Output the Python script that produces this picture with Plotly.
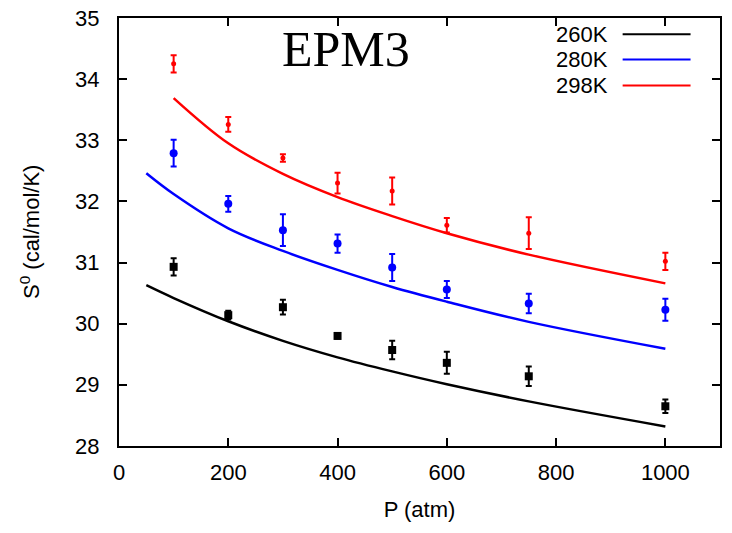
import plotly.graph_objects as go

# Measured entropies (cal/mol/K) with uncertainties, by pressure (atm)
pressure_pts = [100, 200, 300, 400, 500, 600, 750, 1000]
s_260 = [30.93, 30.14, 30.27, 29.80, 29.57, 29.36, 29.14, 28.65]
err_260 = [0.14, 0.07, 0.12, 0.04, 0.15, 0.18, 0.16, 0.11]
s_280 = [32.79, 31.96, 31.53, 31.31, 30.92, 30.56, 30.33, 30.23]
err_280 = [0.22, 0.13, 0.26, 0.15, 0.22, 0.14, 0.16, 0.18]
s_298 = [34.25, 33.26, 32.71, 32.30, 32.17, 31.61, 31.48, 31.02]
err_298 = [0.14, 0.12, 0.06, 0.17, 0.22, 0.12, 0.26, 0.14]

# Model curves (EPM3)
p_curve_lo = [50, 100, 200, 300, 400, 500, 600, 750, 1000]
curve_260 = [30.63, 30.42, 30.04, 29.72, 29.45, 29.22, 29.01, 28.73, 28.32]
curve_280 = [32.46, 32.12, 31.56, 31.19, 30.88, 30.60, 30.36, 30.03, 29.59]
p_curve_hi = [100, 200, 300, 400, 500, 600, 750, 1000]
curve_298 = [33.69, 32.95, 32.45, 32.07, 31.76, 31.48, 31.13, 30.66]

# Axis ticks
x_ticks = [0, 200, 400, 600, 800, 1000]
y_ticks = [28, 29, 30, 31, 32, 33, 34, 35]

labels = ["260K", "280K", "298K"]
colors = ["#000000", "#0000ff", "#ff0000"]

fig = go.Figure()

curves = [(p_curve_lo, curve_260), (p_curve_lo, curve_280), (p_curve_hi, curve_298)]
for (px, py), col in zip(curves, colors):
    fig.add_trace(go.Scatter(x=px, y=py, mode="lines",
                             line=dict(color=col, width=2.5, shape="spline", smoothing=1.0),
                             showlegend=False, hoverinfo="skip"))

points = [(s_260, err_260, "square", 8), (s_280, err_280, "circle", 8), (s_298, err_298, "circle", 5)]
for (sy, ey, sym, size), col in zip(points, colors):
    fig.add_trace(go.Scatter(x=pressure_pts, y=sy, mode="markers",
                             marker=dict(color=col, symbol=sym, size=size),
                             error_y=dict(type="data", array=ey, color=col, thickness=2, width=3),
                             showlegend=False))

# Key: label on the left, line sample on the right
legend_y = [0.962, 0.903, 0.842]
for lab, col, ly in zip(labels, colors, legend_y):
    fig.add_annotation(x=0.8165, y=ly, xref="paper", yref="paper", text=lab,
                       showarrow=False, xanchor="right", yanchor="middle",
                       font=dict(size=22, color="black"))
    fig.add_shape(type="line", xref="paper", yref="paper",
                  x0=0.838, x1=0.951, y0=ly, y1=ly,
                  line=dict(color=col, width=2))

fig.add_annotation(x=0.378, y=0.928, xref="paper", yref="paper", text="EPM3",
                   showarrow=False, xanchor="center", yanchor="middle",
                   font=dict(family="Liberation Serif, Times New Roman, serif", size=50, color="black"))

axis_common = dict(showline=True, linecolor="black", linewidth=2, mirror="allticks",
                   ticks="inside", ticklen=8, tickwidth=1.5, tickcolor="black",
                   showgrid=False, zeroline=False,
                   tickfont=dict(size=22, color="black"))

fig.update_xaxes(range=[0, 1100], tickvals=x_ticks,
                 ticklabelstandoff=6,
                 title=dict(text="P (atm)", font=dict(size=22, color="black"), standoff=17),
                 **axis_common)
# y labels are written next to the frame on the y scale, clear of the ticks
fig.update_yaxes(range=[28, 35], tickvals=y_ticks, showticklabels=False,
                 **axis_common)
for v in y_ticks:
    fig.add_annotation(x=-0.03, y=v, xref="paper", yref="y", text=str(v),
                       showarrow=False, xanchor="right", yanchor="middle",
                       font=dict(size=22, color="black"))
fig.add_annotation(x=-0.148, y=0.5, xref="paper", yref="paper",
                   text="S<sup>0</sup> (cal/mol/K)", textangle=-90,
                   showarrow=False, xanchor="center", yanchor="middle",
                   font=dict(size=22, color="black"))

fig.update_layout(width=732, height=533,
                  margin=dict(l=119, r=10, t=18, b=87),
                  paper_bgcolor="white", plot_bgcolor="white",
                  font=dict(family="Liberation Sans, Arial, sans-serif", color="black"))

fig.write_html("out.html")
